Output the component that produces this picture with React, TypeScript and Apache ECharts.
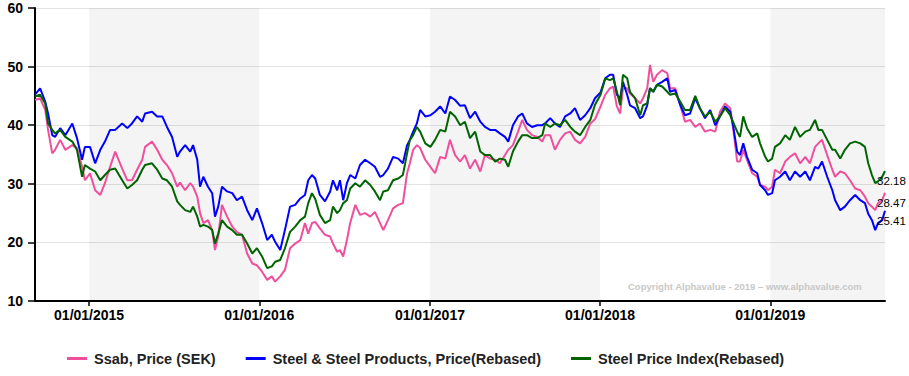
import React, { useEffect, useRef } from "react";
import * as echarts from "echarts";

const dates = [
  "2014-09-07","2014-09-18","2014-09-29","2014-10-05","2014-10-14","2014-10-20","2014-10-31","2014-11-11","2014-11-26","2014-12-06",
  "2014-12-17","2014-12-23","2015-01-03","2015-01-14","2015-01-25","2015-02-04","2015-02-15","2015-02-26","2015-03-13","2015-03-24",
  "2015-04-03","2015-04-14","2015-04-25","2015-05-01","2015-05-16","2015-05-27","2015-06-07","2015-06-17","2015-06-28","2015-07-09",
  "2015-07-15","2015-07-26","2015-08-06","2015-08-12","2015-08-21","2015-08-27","2015-09-03","2015-09-13","2015-09-22","2015-09-28",
  "2015-10-05","2015-10-13","2015-10-24","2015-11-04","2015-11-14","2015-11-25","2015-12-06","2015-12-17","2015-12-27","2016-01-07",
  "2016-01-18","2016-01-28","2016-02-04","2016-02-15","2016-02-25","2016-03-07","2016-03-18","2016-03-29","2016-04-08","2016-04-15",
  "2016-04-23","2016-04-30","2016-05-10","2016-05-21","2016-06-01","2016-06-07","2016-06-16","2016-06-22","2016-06-29","2016-07-07",
  "2016-07-14","2016-07-25","2016-08-04","2016-08-15","2016-08-26","2016-09-05","2016-09-16","2016-09-23","2016-10-03","2016-10-14",
  "2016-10-25","2016-11-04","2016-11-13","2016-11-19","2016-11-26","2016-12-04","2016-12-11","2016-12-22","2017-01-02","2017-01-12",
  "2017-01-23","2017-02-03","2017-02-13","2017-02-24","2017-03-07","2017-03-17","2017-03-28","2017-04-08","2017-04-19","2017-04-29",
  "2017-05-10","2017-05-21","2017-05-31","2017-06-11","2017-06-18","2017-06-28","2017-07-09","2017-07-18","2017-07-28","2017-08-08",
  "2017-08-19","2017-08-30","2017-09-05","2017-09-16","2017-09-26","2017-10-07","2017-10-18","2017-10-29","2017-11-08","2017-11-19",
  "2017-11-30","2017-12-11","2017-12-21","2018-01-02","2018-01-12","2018-01-22","2018-01-29","2018-02-06","2018-02-13","2018-02-19",
  "2018-02-28","2018-03-06","2018-03-17","2018-03-28","2018-04-03","2018-04-12","2018-04-18","2018-04-25","2018-05-03","2018-05-14",
  "2018-05-25","2018-05-31","2018-06-11","2018-06-22","2018-07-02","2018-07-13","2018-07-24","2018-08-03","2018-08-14","2018-08-25",
  "2018-09-05","2018-09-15","2018-09-26","2018-10-07","2018-10-13","2018-10-22","2018-10-28","2018-11-04","2018-11-12","2018-11-23",
  "2018-12-04","2018-12-10","2018-12-21","2018-12-27","2019-01-05","2019-01-11","2019-01-22","2019-02-02","2019-02-12","2019-02-23",
  "2019-03-06","2019-03-17","2019-03-27","2019-04-07","2019-04-14","2019-04-22","2019-05-03","2019-05-14","2019-05-20","2019-05-31",
  "2019-06-10","2019-06-21","2019-07-02","2019-07-13","2019-07-23","2019-07-30","2019-08-07","2019-08-14","2019-08-20","2019-08-29",
  "2019-09-04"
];

const ssab = [
  44.3,44.6,42.6,39.2,35.2,35.8,37.5,35.8,36.6,36.1,
  32.9,30.6,31.8,28.9,28.1,30.1,32.9,35.5,32.6,30.6,
  30.6,32.4,34.1,36.3,37.2,35.8,34.1,33.2,31.8,29.5,
  30.2,28.9,30.1,29.5,27.8,25.0,23.3,23.8,22.1,18.7,
  21.0,26.4,24.4,22.7,21.8,21.3,18.1,16.4,16.1,15.0,
  13.6,14.2,13.3,14.2,15.3,19.0,19.8,20.4,23.3,21.5,
  23.3,23.5,22.4,21.3,21.0,19.8,18.4,18.7,17.6,20.4,
  23.3,26.4,24.7,25.0,24.4,25.2,23.3,22.1,23.8,25.8,
  26.4,26.7,31.8,33.5,35.8,36.6,36.1,34.1,32.9,31.8,
  34.6,34.3,37.5,34.9,33.8,34.9,32.6,34.1,32.1,34.9,
  34.3,34.1,33.5,34.9,35.8,36.6,38.9,40.9,39.2,38.3,
  38.0,37.2,38.3,38.3,35.8,37.5,38.6,38.9,37.5,36.9,
  38.0,40.3,41.0,43.2,45.2,46.3,46.6,43.2,42.0,46.3,
  46.3,45.4,44.6,43.7,44.6,46.3,50.3,47.4,48.6,49.4,
  48.9,46.3,46.3,43.4,40.6,40.9,39.7,40.3,38.9,39.2,
  38.9,42.3,43.7,42.9,39.7,33.8,33.8,35.8,34.1,31.8,
  31.2,29.8,29.5,28.9,29.5,32.4,31.8,33.8,34.6,35.2,
  33.5,34.6,33.5,36.3,36.9,37.5,34.9,32.4,31.2,32.1,
  31.8,30.6,29.2,28.9,27.8,26.7,26.1,25.5,26.7,27.2,
  28.47
];

const steelProducts = [
  45.2,46.3,44.0,42.0,38.3,38.0,39.5,38.3,40.3,37.8,
  34.1,36.3,36.3,33.5,35.8,37.2,39.2,39.2,40.3,39.5,
  40.3,41.5,40.6,42.0,42.3,41.5,41.5,39.7,38.0,34.6,
  35.5,36.6,35.5,36.6,34.1,29.5,31.2,29.5,28.4,24.4,
  26.1,29.5,28.7,28.4,27.2,27.8,25.5,23.8,25.8,23.3,
  20.4,21.3,20.1,18.7,22.1,26.1,26.4,27.5,28.1,30.6,
  31.5,30.9,28.1,27.0,28.7,30.6,28.9,30.6,27.2,30.1,
  31.5,30.9,33.2,34.1,33.5,32.9,31.2,31.5,32.6,34.6,
  34.3,33.5,36.6,37.5,38.9,40.3,42.6,41.5,41.7,42.3,
  43.2,42.0,44.9,44.3,43.3,43.4,41.2,42.3,40.6,39.7,
  39.2,39.2,38.6,38.0,37.2,40.0,41.5,42.0,40.3,39.7,
  40.0,40.0,40.3,41.2,40.3,39.7,41.5,42.0,42.9,40.9,
  41.7,42.9,44.6,45.6,48.0,48.6,48.6,45.2,44.6,47.4,
  45.2,43.4,42.9,41.2,41.5,43.4,46.3,45.7,46.9,47.4,
  48.0,45.7,46.0,43.4,41.7,42.0,44.6,42.9,41.2,42.6,
  40.0,41.5,43.2,42.3,40.0,35.5,34.9,36.9,34.6,32.4,
  31.8,29.8,28.9,28.1,28.4,30.6,31.2,32.1,30.6,32.1,
  31.2,32.1,30.6,32.9,32.6,33.8,31.2,28.9,27.2,25.5,
  26.1,27.2,28.1,27.2,26.7,24.9,23.8,22.1,23.3,23.8,
  25.41
];

const steelIndex = [
  44.9,45.2,43.7,40.3,39.2,38.6,39.2,38.0,37.2,35.8,
  31.2,33.2,32.6,32.1,30.6,31.5,32.4,32.6,30.6,29.2,
  29.8,30.6,32.4,33.2,33.5,32.4,30.9,30.6,29.5,27.0,
  26.4,25.5,25.2,26.1,24.4,22.7,23.0,22.7,22.1,19.8,
  21.5,23.8,22.7,22.1,21.3,21.3,19.8,18.1,19.0,17.6,
  15.6,15.9,16.7,17.0,19.0,21.8,22.7,23.8,24.4,26.7,
  28.4,27.4,24.7,23.3,23.8,26.1,25.0,25.5,26.7,27.2,
  29.2,30.1,29.5,30.6,29.8,28.7,27.2,28.7,28.9,30.6,
  30.9,31.5,35.2,37.5,38.3,39.7,38.9,36.9,36.3,37.5,
  39.2,38.9,42.3,41.5,40.0,40.6,37.8,38.9,35.5,34.9,
  34.9,33.8,34.3,34.1,32.9,35.5,37.2,38.3,38.3,37.8,
  37.8,38.3,40.3,39.7,40.3,40.0,40.9,39.7,38.9,38.3,
  39.7,40.9,43.5,45.2,48.0,47.7,48.0,45.7,43.4,48.6,
  48.0,45.7,44.6,41.7,43.4,43.7,46.3,45.7,46.9,46.6,
  45.7,45.2,45.4,44.0,42.6,42.6,45.0,42.9,41.5,42.3,
  40.6,41.5,42.9,41.7,40.6,38.9,38.0,41.5,39.5,38.0,
  38.6,36.9,34.6,33.8,34.3,36.3,36.9,38.3,37.5,39.7,
  38.0,38.9,39.2,40.9,39.2,39.2,37.5,35.8,35.8,34.3,
  35.8,36.9,37.2,36.9,36.3,33.5,31.5,30.1,30.4,31.2,
  32.18
];

const seriesNames = [
  "Ssab, Price (SEK)",
  "Steel & Steel Products, Price(Rebased)",
  "Steel Price Index(Rebased)",
];
const seriesColors = ["#f0509b", "#0000ff", "#006400"];
const yearTicks = ["2015-01-01", "2016-01-01", "2017-01-01", "2018-01-01", "2019-01-01"];
const shadedBands = [
  ["2015-01-01", "2016-01-01"],
  ["2017-01-01", "2018-01-01"],
  ["2019-01-01", "2019-09-04"],
];
const watermark = "Copyright Alphavalue - 2019 \u2013 www.alphavalue.com";

const FONT = "'Liberation Sans', Arial, Helvetica, sans-serif";

function toTime(s: string): number {
  const [y, m, d] = s.split("-").map(Number);
  return new Date(y, m - 1, d).getTime();
}

function pad(n: number): string {
  return n < 10 ? "0" + n : String(n);
}

export default function App() {
  const ref = useRef<HTMLDivElement>(null);

  useEffect(() => {
    if (!ref.current) return;
    const chart = echarts.init(ref.current, undefined, { renderer: "svg" });
    const allValues = [ssab, steelProducts, steelIndex];

    const series: any[] = allValues.map((vals, idx) => ({
      name: seriesNames[idx],
      type: "line",
      data: dates.map((d, i) => [toTime(d), vals[i]]),
      showSymbol: false,
      symbol: "none",
      z: 3 + idx,
      lineStyle: { color: seriesColors[idx], width: 2 },
      itemStyle: { color: seriesColors[idx] },
      endLabel: {
        show: true,
        formatter: (p: any) => Number(p.value[1]).toFixed(2),
        offset: [-16, 10],
        color: "#000",
        fontFamily: FONT,
        fontSize: 11.5,
      },
      markArea:
        idx === 0
          ? {
              silent: true,
              itemStyle: { color: "rgba(0,0,0,0.045)" },
              data: shadedBands.map(([a, b]) => [{ xAxis: toTime(a) }, { xAxis: toTime(b) }]),
            }
          : undefined,
    }));

    const tickTimes = yearTicks.map(toTime);

    chart.setOption({
      animation: false,
      backgroundColor: "#ffffff",
      grid: { left: 35, right: 24, top: 8, bottom: 75, containLabel: false },
      legend: {
        left: 62,
        top: 346,
        icon: "rect",
        itemWidth: 20,
        itemHeight: 3,
        itemGap: 30,
        textStyle: {
          fontFamily: FONT,
          fontWeight: "bold",
          fontSize: 14.5,
          color: "#222",
          padding: [0, 0, 0, 2],
        },
        data: seriesNames,
      },
      xAxis: {
        type: "value",
        min: toTime(dates[0]),
        max: toTime(dates[dates.length - 1]),
        axisLine: { show: true, onZero: false, lineStyle: { color: "#000", width: 2 } },
        axisTick: {
          show: true,
          length: 5,
          customValues: tickTimes,
          lineStyle: { color: "#000", width: 1.5 },
        },
        axisLabel: {
          customValues: tickTimes,
          margin: 7,
          color: "#000",
          fontFamily: FONT,
          fontWeight: "bold",
          fontSize: 14,
          formatter: (v: number) => {
            const d = new Date(v);
            return pad(d.getDate()) + "/" + pad(d.getMonth() + 1) + "/" + d.getFullYear();
          },
        },
        splitLine: { show: false },
      },
      yAxis: {
        type: "value",
        min: 10,
        max: 60,
        interval: 10,
        axisLine: { show: true, lineStyle: { color: "#000", width: 2 } },
        axisTick: { show: true, length: 7, lineStyle: { color: "#000", width: 1.5 } },
        axisLabel: {
          margin: 12,
          color: "#000",
          fontFamily: FONT,
          fontWeight: "bold",
          fontSize: 14,
        },
        splitLine: { show: true, lineStyle: { color: "#e3e3e3", width: 1 } },
      },
      graphic: [
        {
          type: "text",
          left: 628,
          top: 281,
          silent: true,
          z: 10,
          style: {
            text: watermark,
            fill: "#c8c8c8",
            font: "bold 9.5px " + FONT,
          },
        },
      ],
      series,
    });

    return () => {
      chart.dispose();
    };
  }, []);

  return (
    <div
      ref={ref}
      style={{ position: "absolute", left: 0, top: 0, width: 909, height: 376 }}
    />
  );
}
